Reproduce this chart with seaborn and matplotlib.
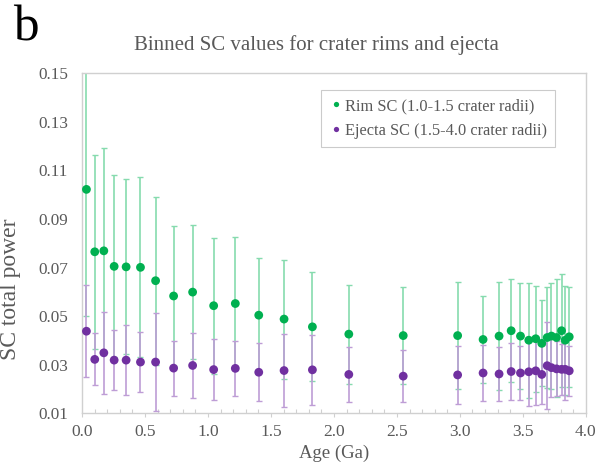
import numpy as np
import pandas as pd
import matplotlib
matplotlib.use("Agg")
import matplotlib.pyplot as plt
import seaborn as sns
from matplotlib.ticker import MultipleLocator, FormatStrFormatter

# Age bins (Ga)
age = [0.035, 0.101, 0.173, 0.255, 0.350, 0.464, 0.584, 0.727, 0.878, 1.045,
       1.217, 1.403, 1.604, 1.829, 2.118, 2.550, 2.982, 3.184, 3.311, 3.407,
       3.481, 3.547, 3.602, 3.650, 3.693, 3.727, 3.767, 3.807, 3.836, 3.868]

# Rim SC (1.0-1.5 crater radii): mean and +/- spread
rim_sc = [0.1022, 0.0765, 0.0769, 0.0705, 0.0703, 0.0701, 0.0646, 0.0583, 0.0599, 0.0543,
          0.0552, 0.0504, 0.0488, 0.0456, 0.0426, 0.0420, 0.0420, 0.0404, 0.0418, 0.0440,
          0.0418, 0.0401, 0.0407, 0.0388, 0.0412, 0.0418, 0.0412, 0.0440, 0.0401, 0.0415]
rim_err = [0.0520, 0.0400, 0.0422, 0.0375, 0.0360, 0.0370, 0.0346, 0.0288, 0.0277, 0.0280,
           0.0275, 0.0236, 0.0245, 0.0224, 0.0204, 0.0200, 0.0220, 0.0181, 0.0223, 0.0211,
           0.0217, 0.0236, 0.0218, 0.0177, 0.0206, 0.0217, 0.0243, 0.0233, 0.0225, 0.0206]

# Ejecta SC (1.5-4.0 crater radii): mean and +/- spread
ejecta_sc = [0.0438, 0.0322, 0.0349, 0.0319, 0.0319, 0.0311, 0.0311, 0.0286, 0.0297, 0.0280,
             0.0285, 0.0269, 0.0276, 0.0279, 0.0260, 0.0253, 0.0258, 0.0266, 0.0262, 0.0272,
             0.0266, 0.0271, 0.0275, 0.0260, 0.0296, 0.0288, 0.0283, 0.0281, 0.0281, 0.0275]
ejecta_err = [0.0190, 0.0107, 0.0170, 0.0123, 0.0144, 0.0123, 0.0200, 0.0113, 0.0133, 0.0125,
              0.0112, 0.0120, 0.0150, 0.0145, 0.0115, 0.0107, 0.0118, 0.0117, 0.0110, 0.0117,
              0.0113, 0.0139, 0.0140, 0.0120, 0.0180, 0.0121, 0.0113, 0.0104, 0.0127, 0.0103]

series_names = ["Rim SC (1.0-1.5 crater radii)", "Ejecta SC (1.5-4.0 crater radii)"]
series_colors = ["#00B050", "#7030A0"]
error_colors = ["#86DBAE", "#BE9DD6"]

df = pd.concat([
    pd.DataFrame({"age": age, "sc": rim_sc, "err": rim_err, "series": series_names[0]}),
    pd.DataFrame({"age": age, "sc": ejecta_sc, "err": ejecta_err, "series": series_names[1]}),
], ignore_index=True)

sns.set_theme(style="white")
plt.rcParams["font.family"] = ["Liberation Serif", "DejaVu Serif"]
text_gray = "#595959"
spine_gray = "#D0D0D0"

fig = plt.figure(figsize=(6.09, 4.75), dpi=100)
ax = fig.add_axes([0.1347, 0.1299, 0.8273, 0.7158])

# error bars in lighter tints; ejecta drawn over rim
for i, (name, color) in enumerate(zip(series_names, error_colors)):
    sub = df[df["series"] == name]
    ax.errorbar(sub["age"], sub["sc"], yerr=sub["err"], fmt="none",
                ecolor=color, elinewidth=1.2, capsize=2.2,
                capthick=1.0, zorder=2 + i * 0.1)

sns.scatterplot(data=df, x="age", y="sc", hue="series", hue_order=series_names,
                palette=series_colors, s=40, edgecolor="none", ax=ax, zorder=3)

ax.set_xlim(0, 4.0)
ax.set_ylim(0.01, 0.15)
ax.xaxis.set_major_locator(MultipleLocator(0.5))
ax.xaxis.set_minor_locator(MultipleLocator(0.1))
ax.xaxis.set_major_formatter(FormatStrFormatter("%.1f"))
ax.set_yticks(np.arange(0.01, 0.151, 0.02))
ax.yaxis.set_major_formatter(FormatStrFormatter("%.2f"))

ax.tick_params(axis="x", which="major", direction="out", length=3, width=0.8,
               color=spine_gray, labelsize=12.5, labelcolor=text_gray, pad=5, bottom=True)
ax.tick_params(axis="x", which="minor", direction="in", length=3, width=0.8,
               color=spine_gray, bottom=True)
ax.tick_params(axis="y", which="major", length=0, labelsize=12.3,
               labelcolor=text_gray, pad=10)

for sp in ax.spines.values():
    sp.set_visible(True)
    sp.set_color(spine_gray)
    sp.set_linewidth(1.0)

ax.set_xlabel("Age (Ga)", fontsize=13.5, color=text_gray, labelpad=3)
ax.set_ylabel("")
fig.text(0.0, 0.392, "SC total power", fontsize=17, color=text_gray,
         rotation=90, ha="left", va="center")
ax.set_title("Binned SC values for crater rims and ejecta", fontsize=15,
             color=text_gray, pad=17, x=0.466)

leg = ax.legend(loc="upper right", bbox_to_anchor=(0.955, 0.975), frameon=True,
                fancybox=False, edgecolor="#BFBFBF", fontsize=11.8, markerscale=0.6,
                handlelength=0.85, handletextpad=0.1, borderpad=0.5,
                labelspacing=0.55)
for t in leg.get_texts():
    t.set_color(text_gray)
leg.get_frame().set_linewidth(0.8)

fig.text(0.021, 0.9137, "b", fontsize=37, color="black", ha="left", va="baseline")

fig.savefig("out.png", dpi=100, facecolor="white")
